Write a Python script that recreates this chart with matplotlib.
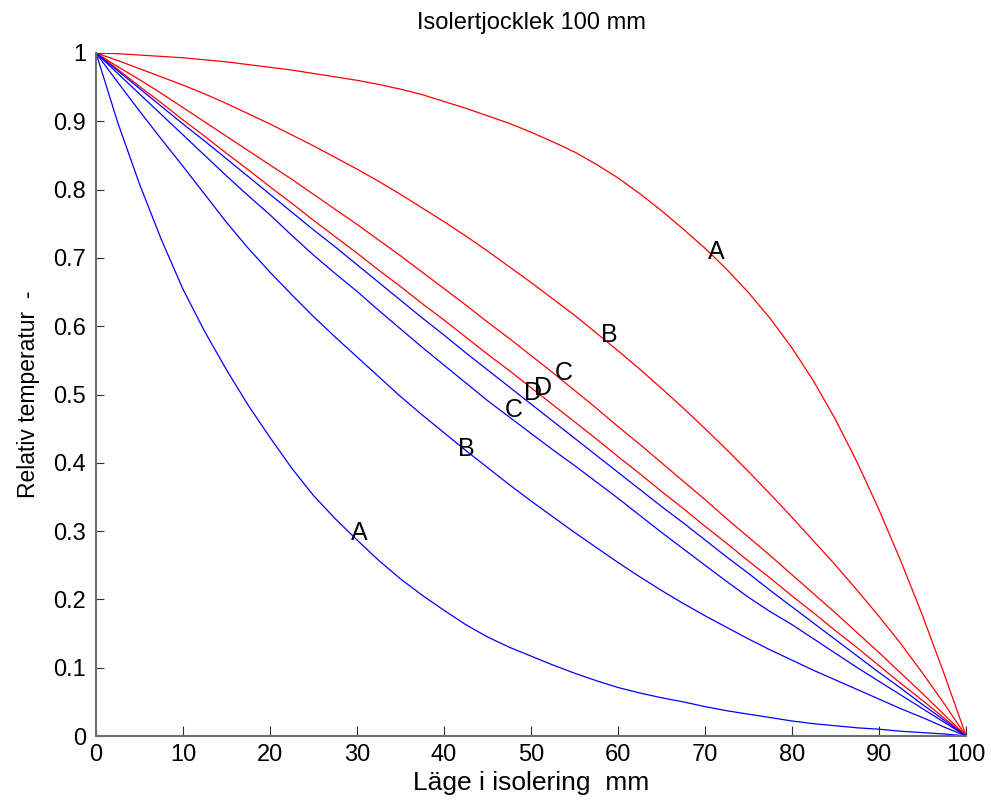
import matplotlib
matplotlib.use("Agg")
import matplotlib.pyplot as plt

# position in the insulation layer, mm
pos = [0, 2.5, 5, 7.5, 10, 12.5, 15, 17.5, 20, 22.5, 25, 27.5, 30, 32.5, 35, 37.5, 40,
       42.5, 45, 47.5, 50, 52.5, 55, 57.5, 60, 62.5, 65, 67.5, 70, 72.5, 75, 77.5, 80,
       82.5, 85, 87.5, 90, 92.5, 95, 97.5, 100]

# relative temperature profiles, red set
red_a = [1.000, 0.999, 0.997, 0.995, 0.993, 0.990, 0.987, 0.983, 0.979, 0.975, 0.970,
         0.965, 0.960, 0.954, 0.947, 0.939, 0.929, 0.919, 0.908, 0.897, 0.884, 0.870,
         0.855, 0.837, 0.817, 0.794, 0.769, 0.742, 0.714, 0.683, 0.649, 0.611, 0.568,
         0.519, 0.463, 0.400, 0.331, 0.256, 0.176, 0.090, 0.000]
red_b = [1.000, 0.989, 0.977, 0.965, 0.953, 0.940, 0.926, 0.911, 0.896, 0.880, 0.864,
         0.847, 0.830, 0.812, 0.793, 0.773, 0.753, 0.732, 0.710, 0.687, 0.664, 0.640,
         0.616, 0.590, 0.564, 0.537, 0.509, 0.480, 0.450, 0.419, 0.387, 0.354, 0.320,
         0.285, 0.250, 0.213, 0.175, 0.135, 0.092, 0.047, 0.000]
red_c = [1.000, 0.980, 0.961, 0.941, 0.920, 0.899, 0.878, 0.857, 0.836, 0.815, 0.793,
         0.771, 0.749, 0.726, 0.703, 0.679, 0.655, 0.631, 0.606, 0.582, 0.557, 0.532,
         0.506, 0.480, 0.453, 0.427, 0.400, 0.373, 0.346, 0.318, 0.291, 0.264, 0.236,
         0.208, 0.180, 0.151, 0.122, 0.092, 0.062, 0.031, 0.000]
red_d = [1.000, 0.976, 0.951, 0.927, 0.902, 0.878, 0.853, 0.829, 0.804, 0.780, 0.755,
         0.731, 0.707, 0.682, 0.658, 0.633, 0.609, 0.584, 0.559, 0.535, 0.510, 0.485,
         0.460, 0.435, 0.409, 0.384, 0.358, 0.333, 0.307, 0.282, 0.256, 0.231, 0.205,
         0.180, 0.154, 0.129, 0.103, 0.077, 0.052, 0.026, 0.000]

# blue set
blue_a = [1.000, 0.898, 0.808, 0.727, 0.654, 0.592, 0.536, 0.484, 0.437, 0.392, 0.352,
          0.318, 0.287, 0.257, 0.230, 0.206, 0.184, 0.163, 0.145, 0.130, 0.117, 0.104,
          0.092, 0.081, 0.071, 0.063, 0.056, 0.050, 0.043, 0.037, 0.032, 0.027, 0.022,
          0.018, 0.015, 0.012, 0.010, 0.007, 0.005, 0.003, 0.000]
blue_b = [1.000, 0.957, 0.915, 0.874, 0.834, 0.793, 0.752, 0.714, 0.679, 0.646, 0.614,
          0.584, 0.555, 0.526, 0.497, 0.470, 0.444, 0.418, 0.393, 0.368, 0.344, 0.321,
          0.298, 0.276, 0.254, 0.233, 0.213, 0.194, 0.176, 0.159, 0.142, 0.126, 0.111,
          0.096, 0.082, 0.068, 0.054, 0.040, 0.027, 0.013, 0.000]
blue_c = [1.000, 0.970, 0.940, 0.910, 0.880, 0.850, 0.820, 0.791, 0.763, 0.733, 0.704,
          0.677, 0.651, 0.623, 0.596, 0.569, 0.543, 0.517, 0.491, 0.467, 0.443, 0.419,
          0.396, 0.372, 0.348, 0.323, 0.298, 0.274, 0.250, 0.226, 0.203, 0.182, 0.163,
          0.142, 0.121, 0.100, 0.080, 0.060, 0.040, 0.020, 0.000]
blue_d = [1.000, 0.974, 0.948, 0.922, 0.896, 0.871, 0.845, 0.819, 0.793, 0.767, 0.741,
          0.716, 0.690, 0.664, 0.638, 0.612, 0.587, 0.561, 0.536, 0.511, 0.486, 0.461,
          0.436, 0.411, 0.386, 0.361, 0.336, 0.312, 0.287, 0.262, 0.238, 0.213, 0.189,
          0.165, 0.141, 0.117, 0.093, 0.070, 0.046, 0.023, 0.000]

# curve letters and where they sit
label_text = ["A", "B", "C", "D", "D", "C", "B", "A"]
label_x = [71.3, 59.0, 53.8, 51.4, 50.2, 48.0, 42.5, 30.3]
label_y = [0.709, 0.587, 0.531, 0.510, 0.502, 0.477, 0.420, 0.297]

x_ticks = [0, 10, 20, 30, 40, 50, 60, 70, 80, 90, 100]
y_ticks = [0, 0.1, 0.2, 0.3, 0.4, 0.5, 0.6, 0.7, 0.8, 0.9, 1]
y_tick_labels = ["0", "0.1", "0.2", "0.3", "0.4", "0.5", "0.6", "0.7", "0.8", "0.9", "1"]

plt.rcParams["font.family"] = ["Liberation Sans", "DejaVu Sans"]

fig = plt.figure(figsize=(9.91, 8.09), dpi=100)
ax = fig.add_axes([0.0969, 0.0902, 0.878, 0.8443])

for ys in (red_a, red_b, red_c, red_d):
    ax.plot(pos, ys, color="#ff0000", lw=0.9)
for ys in (blue_a, blue_b, blue_c, blue_d):
    ax.plot(pos, ys, color="#0000ff", lw=0.9)

for t, lx, ly in zip(label_text, label_x, label_y):
    ax.text(lx, ly, t, fontsize=18, ha="center", va="center", color="black")

ax.set_xlim(0, 100)
ax.set_ylim(0, 1)
ax.set_xticks(x_ticks)
ax.set_yticks(y_ticks)
ax.set_yticklabels(y_tick_labels)

ax.spines["top"].set_visible(False)
ax.spines["right"].set_visible(False)
for s in ("left", "bottom"):
    ax.spines[s].set_color("#707070")
    ax.spines[s].set_linewidth(1.5)
ax.tick_params(axis="both", direction="in", colors="#303030", labelcolor="black",
               labelsize=17, width=0.8)
ax.tick_params(axis="x", length=7, pad=6)
ax.tick_params(axis="y", length=6, pad=7)

ax.set_title("Isolertjocklek 100 mm", fontsize=17, pad=17)
ax.set_xlabel("Läge i isolering  mm", fontsize=19, labelpad=3)
ax.set_ylabel("Relativ temperatur  -", fontsize=16.5, labelpad=10)

fig.savefig("out.png", dpi=100)
